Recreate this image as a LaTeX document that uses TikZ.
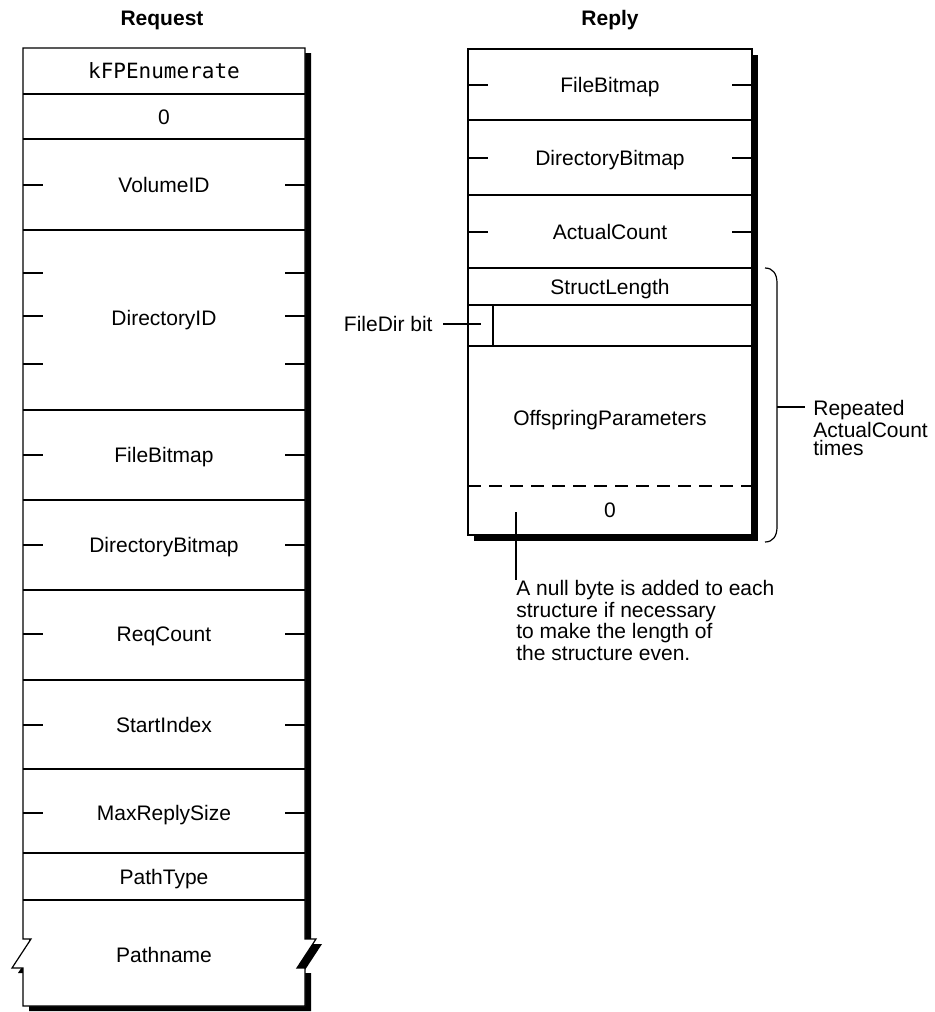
\documentclass[tikz,border=0pt]{standalone}
\usepackage{fontspec}
\setmainfont{Liberation Sans}
\setmonofont{DejaVu Sans Mono}

\tikzset{
  field/.style={inner sep=0pt, text height=7.5pt, text depth=0pt, font=\fontsize{10.5}{12}\selectfont},
  title/.style={field, font=\bfseries\fontsize{10.5}{12}\selectfont},
  note/.style={inner sep=0pt, align=left, font=\fontsize{10.5}{9.3}\selectfont},
  boxshadow/.style={fill=black},
  boxframe/.style={fill=white, draw=black, line width=0.6pt},
  thin/.style={line width=0.6pt},
}

\begin{document}
\begin{tikzpicture}[x=0.5pt,y=-0.5pt]
   \useasboundingbox (0,0) rectangle (935,1012);

   \node[title] (req) at (162,18) {Request};
   \node[title] (rep) at (610,18) {Reply};

   \foreach \dx/\dy/\sty in {6/5/boxshadow, 0/0/boxframe}
     \path[\sty, shift={(\dx,\dy)}] (23,48) -- (305,48) -- (305,939) -- (316,939)
        -- (297,968) -- (305,968) -- (305,1006) -- (23,1006) -- (23,968)
        -- (12,968) -- (31,939) -- (23,939) -- cycle;
   \foreach \y in {94,139,230,410,500,590,680,769,853,900}
     \draw[thin] (23,\y) -- (305,\y);
   \foreach \y in {185,273,316,364,455,545,634,725,813} {
     \draw[thin] (23,\y) -- +(20,0);
     \draw[thin] (305,\y) -- +(-20,0);
   }

   \node[field] (kfp) at (164,71) {\ttfamily kFPEnumerate};
   \node[field] (zero) at (164,117) {0};
   \node[field] (vol) at (164,185) {VolumeID};
   \node[field] (dirid) at (164,318) {DirectoryID};
   \node[field] (fbm) at (164,455) {FileBitmap};
   \node[field] (dbm) at (164,545) {DirectoryBitmap};
   \node[field] (reqc) at (164,634) {ReqCount};
   \node[field] (start) at (164,725) {StartIndex};
   \node[field] (maxr) at (164,813) {MaxReplySize};
   \node[field] (ptype) at (164,877) {PathType};
   \node[field] (pname) at (164,955) {Pathname};

   \foreach \dx/\dy/\sty in {6/6/boxshadow, 0/0/boxframe}
     \path[\sty, shift={(\dx,\dy)}] (468,49) rectangle (752,535);
   \foreach \y in {120,195,268,305,346}
     \draw[thin] (468,\y) -- (752,\y);
   \draw[thin, dash pattern=on 6.5pt off 4pt] (468,486) -- (752,486);
   \draw[thin] (493,305) -- (493,346);
   \foreach \y in {85,158,232} {
     \draw[thin] (468,\y) -- +(20,0);
     \draw[thin] (752,\y) -- +(-20,0);
   }

   \node[field] (rfbm) at (610,85) {FileBitmap};
   \node[field] (rdbm) at (610,158) {DirectoryBitmap};
   \node[field] (count) at (610,232) {ActualCount};
   \node[field] (slen) at (610,287) {StructLength};
   \node[field] (offs) at (610,418) {OffspringParameters};
   \node[field] (pad) at (610,510) {0};

   \node[field, anchor=east] (fdlabel) at (433,324) {FileDir bit};
   \coordinate (fdbit) at (481,324);
   \draw[thin, shorten <=5pt] (fdlabel) -- (fdbit);

   \coordinate (nullpt) at (516,512);
   \node[note, anchor=north west] (nullnote) at (516,580)
     {A null byte is added to each\\structure if necessary\\to make the length of\\the structure even.};
   \draw[thin] (nullpt) -- (nullnote.north west);

   \draw[thin] (765,268) .. controls (773,268) and (777,274) .. (777,283) -- (777,527)
      .. controls (777,536) and (773,542) .. (765,542);
   \coordinate (bracemid) at (777,407);
   \node[note, anchor=north west] (repnote) at (813,400) {Repeated\\ActualCount\\times};
   \draw[thin, shorten >=4pt] (bracemid) -- (bracemid -| repnote.west);

\end{tikzpicture}
\end{document}
